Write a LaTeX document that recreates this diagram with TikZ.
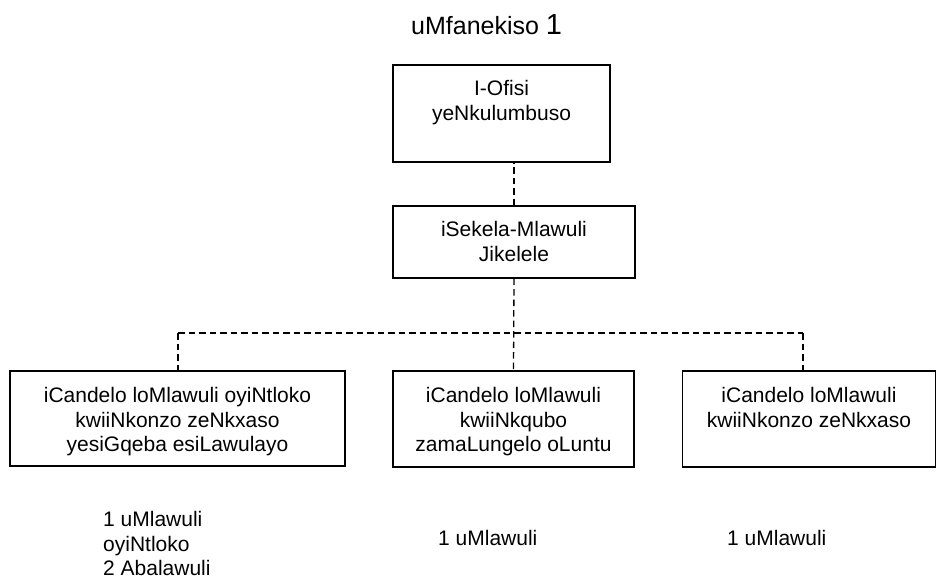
\documentclass[tikz,border=0pt]{standalone}
\usepackage{fontspec}
\setmainfont{Liberation Sans}
\usetikzlibrary{calc}
\begin{document}
\begin{tikzpicture}[x=1pt,y=-1pt,
  orgbox/.style={draw=black,line width=1.4pt,inner sep=0pt,rectangle},
  boxtext/.style={anchor=north,align=center,inner sep=0pt,font=\fontsize{21}{24.5}\selectfont},
  plain/.style={inner sep=0pt,font=\fontsize{21}{24.5}\selectfont},
  link/.style={draw=black,line width=1.3pt,dash pattern=on 6.5pt off 4pt}]
\useasboundingbox (0,0) rectangle (937,581);
% title
\node[plain,anchor=base west] (title) at (411,34) {\fontsize{25}{29}\selectfont uMfanekiso \fontsize{29}{32}\selectfont 1};
% boxes
\node[orgbox,minimum width=217pt,minimum height=97pt] (b1) at (501.5,113.5) {};
\node[orgbox,minimum width=242pt,minimum height=72pt] (b2) at (514,242) {};
\node[orgbox,minimum width=335pt,minimum height=95pt] (L) at (177.5,418.5) {};
\node[orgbox,minimum width=241pt,minimum height=96pt] (M) at (513.5,419) {};
\node[orgbox,minimum width=253pt,minimum height=96pt] (R) at (809,419) {};
% box texts
\node[boxtext] (t1) at ($(b1.north)+(0,16)$) {I-Ofisi\\yeNkulumbuso};
\node[boxtext] (t2) at ($(b2.north)+(0,16)$) {iSekela-Mlawuli\\Jikelele};
\node[boxtext] (tL) at ($(L.north)+(0,17)$) {iCandelo loMlawuli oyiNtloko\\kwiiNkonzo zeNkxaso\\yesiGqeba esiLawulayo};
\node[boxtext] (tM) at ($(M.north)+(0,17)$) {iCandelo loMlawuli\\kwiiNkqubo\\zamaLungelo oLuntu};
\node[boxtext] (tR) at ($(R.north)+(0,17)$) {iCandelo loMlawuli\\kwiiNkonzo zeNkxaso};
% connectors
\coordinate (hl) at (178,333);
\coordinate (hr) at (803,333);
\draw[link] (b2.north) -- (b2.north |- b1.south);
\draw[link] (b2.south) -- (M.north);
\draw[link] (hl) -- (hr);
\draw[link] (hl) -- (hl |- L.north);
\draw[link] (hr) -- (hr |- R.north);
% staff counts
\node[plain,anchor=north west,align=left] (sL) at (103,511.5) {1 uMlawuli\\oyiNtloko\\2 Abalawuli};
\node[plain,anchor=base west] (sM) at (438,545) {1 uMlawuli};
\node[plain,anchor=base west] (sR) at (727,545) {1 uMlawuli};
\end{tikzpicture}
\end{document}
